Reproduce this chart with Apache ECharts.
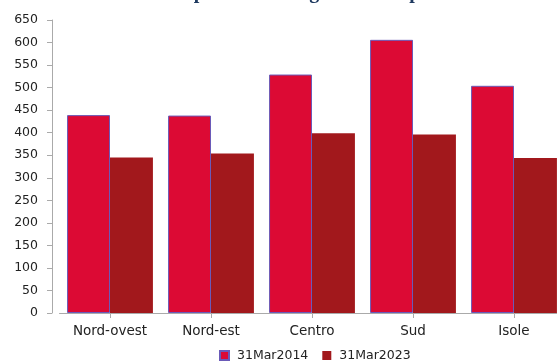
<!DOCTYPE html>
<html><head><meta charset="utf-8">
<script src="https://cdn.jsdelivr.net/npm/echarts@6/dist/echarts.min.js"></script>
<style>html,body{margin:0;padding:0;background:#fff;overflow:hidden}#c{width:565px;height:363px}</style>
</head><body><div id="c"></div>
<script>
const categories = ['Nord-ovest', 'Nord-est', 'Centro', 'Sud', 'Isole'];
const series2014 = [439, 438, 529, 606, 504];
const series2023 = [345, 354, 399, 396, 344];
const seriesNames = ['31Mar2014', '31Mar2023'];
const yTicks = {min: 0, max: 650, interval: 50};
const titleText = 'Strutture per area di regione e comparto';

const chart = echarts.init(document.getElementById('c'), null, {renderer: 'canvas'});
chart.setOption({
  animation: false,
  title: {
    text: titleText, left: 'center', top: -22,
    textStyle: {fontFamily: 'Liberation Serif', fontWeight: 'bold', fontSize: 20, color: '#1f3a60'}
  },
  grid: {left: 59.5, top: 20, width: 505, height: 293, containLabel: false},
  legend: {
    data: seriesNames, top: 344, left: 214, itemWidth: 9, itemHeight: 9, itemGap: 14,
    icon: 'rect',
    textStyle: {fontFamily: 'DejaVu Sans', fontSize: 12.5, color: '#222', padding: [0, 0, 0, 3]}
  },
  xAxis: {
    type: 'category', data: categories,
    axisLine: {show: true, lineStyle: {color: '#aaa'}},
    axisTick: {show: true, alignWithLabel: true, length: 5, lineStyle: {color: '#aaa'}},
    axisLabel: {fontFamily: 'DejaVu Sans', fontSize: 13.5, color: '#222', margin: 11}
  },
  yAxis: {
    type: 'value', min: yTicks.min, max: yTicks.max, interval: yTicks.interval, offset: 7.5,
    axisLine: {show: true, lineStyle: {color: '#aaa'}},
    axisTick: {show: true, length: 5, lineStyle: {color: '#aaa'}},
    splitLine: {show: false},
    axisLabel: {fontFamily: 'DejaVu Sans', fontSize: 12.5, color: '#222', margin: 14}
  },
  series: [
    {name: seriesNames[0], type: 'bar', data: series2014, barGap: '0%', barCategoryGap: '15%',
     itemStyle: {color: '#dc0a34', borderColor: '#6a5ab8', borderWidth: 1}},
    {name: seriesNames[1], type: 'bar', data: series2023,
     itemStyle: {color: '#a2181c'}}
  ]
});
</script></body></html>
